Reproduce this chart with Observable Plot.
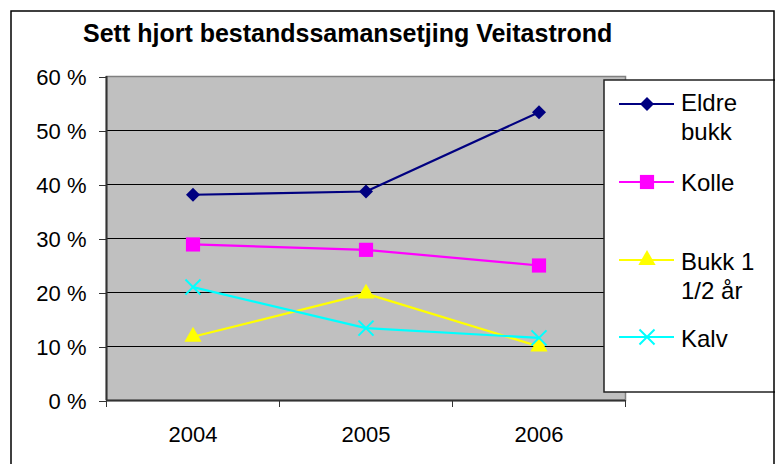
<!DOCTYPE html>
<html>
<head>
<meta charset="utf-8">
<script src="https://cdn.jsdelivr.net/npm/d3@7"></script>
<script src="https://cdn.jsdelivr.net/npm/@observablehq/plot@0.6"></script>
<style>
  html, body { margin: 0; padding: 0; background: #fff; overflow: hidden; }
  #wrap { position: relative; width: 775px; height: 464px; overflow: hidden; font-family: "Liberation Sans", Arial, sans-serif; }
  #wrap > svg { position: absolute; left: 0; top: 0; }
  #overlay { pointer-events: none; }
</style>
</head>
<body>
<div id="wrap"></div>
<script>
// ---- data ----
const years = [2004, 2005, 2006];
const seriesNames = ["Eldre bukk", "Kolle", "Bukk 1 1/2 år", "Kalv"];
const eldreBukk = [0.381, 0.387, 0.534];
const kolle = [0.289, 0.279, 0.250];
const bukk1_5 = [0.118, 0.198, 0.100];
const kalv = [0.210, 0.134, 0.116];
const yTicks = [0, 0.1, 0.2, 0.3, 0.4, 0.5, 0.6];
const yTickLabels = ["0 %", "10 %", "20 %", "30 %", "40 %", "50 %", "60 %"];
const xTickLabels = ["2004", "2005", "2006"];
const categoryEdges = [2003.5, 2004.5, 2005.5, 2006.5];
const title = "Sett hjort bestandssamansetjing Veitastrond";

// ---- styles ----
const colors = ["#000080", "#ff00ff", "#ffff00", "#00ffff"];
const symbols = ["diamond2", "square", "triangle", "times"];
const radii = [6.3, 8.0, 6.4, 6.9];
const allValues = [eldreBukk, kolle, bukk1_5, kalv];

const seriesData = allValues.map((vals, s) =>
  years.map((yr, i) => ({ year: yr, value: vals[i], series: seriesNames[s] }))
);

const font = "Liberation Sans, Arial, sans-serif";

const seriesMarks = seriesData.flatMap((data, s) => [
  Plot.line(data, { x: "year", y: "value", stroke: colors[s], strokeWidth: 2.2 }),
  symbols[s] === "times"
    ? Plot.dot(data, { x: "year", y: "value", symbol: symbols[s], r: radii[s], stroke: colors[s], strokeWidth: 2, fill: "none" })
    : Plot.dot(data, { x: "year", y: "value", symbol: symbols[s], r: radii[s], fill: colors[s], stroke: "none" })
]);

const chart = Plot.plot({
  width: 775,
  height: 464,
  marginLeft: 106,
  marginRight: 150,
  marginTop: 76,
  marginBottom: 64,
  x: { domain: [categoryEdges[0], categoryEdges[categoryEdges.length - 1]] },
  y: { domain: [0, 0.6] },
  style: { fontFamily: font, fontSize: "22px", color: "#000", background: "transparent", overflow: "visible" },
  marks: [
    Plot.frame({ fill: "#c0c0c0", stroke: "#808080", strokeWidth: 1.5 }),
    Plot.gridY(yTicks.slice(1, -1), { stroke: "#000", strokeOpacity: 1, strokeWidth: 1 }),
    Plot.ruleX([categoryEdges[0]], { stroke: "#333", strokeWidth: 2 }),
    Plot.ruleY([0], { stroke: "#333", strokeWidth: 2 }),
    Plot.axisY(yTicks, {
      tickSize: 7, tickPadding: 13, fontSize: 22, fill: "#000", stroke: "#333", label: null,
      tickFormat: d => yTickLabels[yTicks.indexOf(d)], dy: 1
    }),
    Plot.axisX(categoryEdges, { tickSize: 7, stroke: "#333", label: null, tickFormat: () => "" }),
    Plot.axisX(years, {
      tickSize: 0, tickPadding: 26, fontSize: 22, fill: "#000", label: null,
      tickFormat: d => xTickLabels[years.indexOf(d)]
    }),
    ...seriesMarks
  ]
});

const wrap = document.getElementById("wrap");
wrap.appendChild(chart);

// ---- overlay: title, legend, outer border ----
const ov = d3.select(wrap).append("svg")
  .attr("id", "overlay")
  .attr("width", 775).attr("height", 464)
  .style("font-family", font);

ov.append("text")
  .attr("x", 83).attr("y", 42)
  .attr("font-size", 25).attr("font-weight", "bold").attr("fill", "#000")
  .text(title);

// legend box
ov.append("rect")
  .attr("x", 604).attr("y", 80).attr("width", 200).attr("height", 312)
  .attr("fill", "#fff").attr("stroke", "#222").attr("stroke-width", 1.5);

const legendRows = [
  { lineY: 104, lines: ["Eldre", "bukk"], base: [111, 140] },
  { lineY: 182, lines: ["Kolle"], base: [191] },
  { lineY: 260, lines: ["Bukk 1", "1/2 år"], base: [270, 299] },
  { lineY: 337, lines: ["Kalv"], base: [347] }
];
const symMap = { diamond2: d3.symbolDiamond2, square: d3.symbolSquare, triangle: d3.symbolTriangle, times: d3.symbolTimes };

legendRows.forEach((row, s) => {
  const g = ov.append("g");
  g.append("line")
    .attr("x1", 619).attr("x2", 674).attr("y1", row.lineY).attr("y2", row.lineY)
    .attr("stroke", colors[s]).attr("stroke-width", 2);
  const size = Math.PI * radii[s] * radii[s];
  const p = g.append("path")
    .attr("transform", `translate(647,${row.lineY})`)
    .attr("d", d3.symbol(symMap[symbols[s]], size)());
  if (symbols[s] === "times") p.attr("fill", "none").attr("stroke", colors[s]).attr("stroke-width", 2);
  else p.attr("fill", colors[s]);
  row.lines.forEach((t, i) => {
    g.append("text").attr("x", 681).attr("y", row.base[i])
      .attr("font-size", 24).attr("fill", "#000").text(t);
  });
});

// outer chart border
ov.append("rect")
  .attr("x", 11).attr("y", 11).attr("width", 763).attr("height", 520)
  .attr("fill", "none").attr("stroke", "#000").attr("stroke-width", 1.5);
</script>
</body>
</html>
